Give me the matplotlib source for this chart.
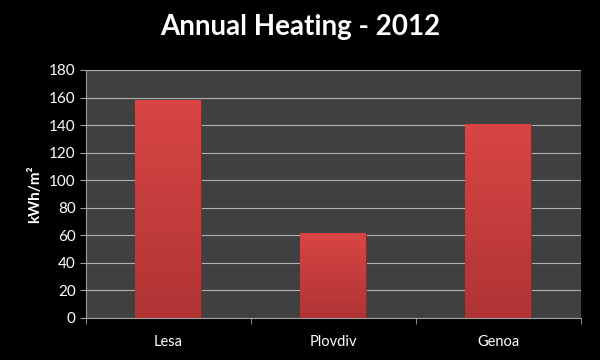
import numpy as np
import matplotlib.pyplot as plt
from matplotlib.colors import LinearSegmentedColormap

cities = ["Lesa", "Plovdiv", "Genoa"]
heating = [158, 62, 141]
y_ticks = [0, 20, 40, 60, 80, 100, 120, 140, 160, 180]

plt.rcParams["font.family"] = ["Lato", "DejaVu Sans"]

fig = plt.figure(figsize=(6, 3.6), dpi=100, facecolor="black")
ax = fig.add_axes([0.1433, 0.1167, 0.825, 0.6889])
ax.set_facecolor("#404040")

x = np.arange(len(cities))
bars = ax.bar(x, heating, width=0.4, color="#c83c3c", edgecolor="#8a2424",
              linewidth=0.6, zorder=3)

# vertical gradient on each bar
cmap = LinearSegmentedColormap.from_list("bar", ["#b03434", "#d94545"])
grad = np.linspace(0, 1, 256).reshape(-1, 1)
for b in bars:
    x0, w, h = b.get_x(), b.get_width(), b.get_height()
    im = ax.imshow(grad, cmap=cmap, aspect="auto", origin="lower",
                   extent=[x0, x0 + w, 0, h], zorder=3.5)
    im.set_clip_path(b)

ax.set_xlim(-0.5, len(cities) - 0.5)
ax.set_ylim(0, 180)
ax.set_yticks(y_ticks)
ax.grid(axis="y", color="#b0b0b0", linewidth=0.8, zorder=1)

ax.set_xticks(x)
ax.set_xticklabels(cities)
ax.set_xticks(np.arange(len(cities) + 1) - 0.5, minor=True)
ax.tick_params(axis="x", which="major", length=0, pad=12, colors="white", labelsize=10.5)
ax.tick_params(axis="x", which="minor", length=4, color="#a0a0a0")
ax.tick_params(axis="y", length=4, color="#a0a0a0", colors="white", labelsize=11)
for t in ax.get_yticklabels():
    t.set_color("white")

for s in ["top", "right"]:
    ax.spines[s].set_visible(False)
for s in ["left", "bottom"]:
    ax.spines[s].set_color("#a0a0a0")

ax.set_ylabel("kWh/m²", color="white", fontweight="bold", fontsize=11, labelpad=5)
fig.suptitle("Annual Heating - 2012", color="white", fontweight="bold",
             fontsize=20, y=0.96)

fig.savefig("out.png", dpi=100, facecolor="black")
